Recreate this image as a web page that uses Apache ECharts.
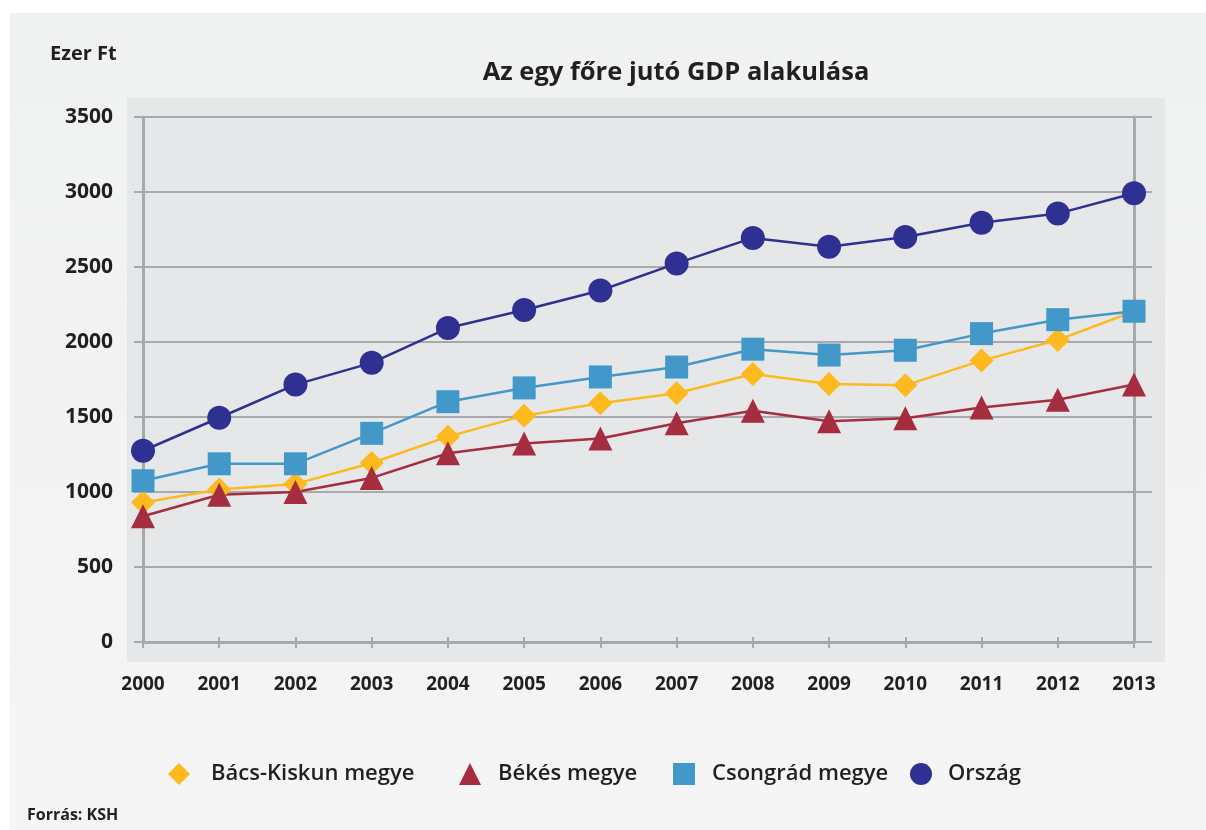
<!DOCTYPE html>
<html>
<head>
<meta charset="utf-8">
<script src="https://cdn.jsdelivr.net/npm/echarts@6/dist/echarts.min.js"></script>
<style>
html,body{margin:0;padding:0;background:#ffffff;}
#chart{width:1206px;height:830px;}
</style>
</head>
<body>
<div id="chart"></div>
<script>
const years = ['2000','2001','2002','2003','2004','2005','2006','2007','2008','2009','2010','2011','2012','2013'];
const bacsKiskun = [930, 1017, 1054, 1193, 1369, 1509, 1592, 1658, 1787, 1720, 1711, 1876, 2013, 2205];
const bekes = [838, 982, 1000, 1094, 1258, 1324, 1357, 1458, 1542, 1471, 1491, 1564, 1615, 1716];
const csongrad = [1075, 1188, 1188, 1391, 1602, 1694, 1767, 1833, 1952, 1913, 1945, 2056, 2149, 2205];
const orszag = [1275, 1495, 1716, 1861, 2093, 2213, 2343, 2524, 2694, 2635, 2700, 2795, 2856, 2992];
const seriesNames = ['Bács-Kiskun megye', 'Békés megye', 'Csongrád megye', 'Ország'];
const yTicks = [0, 500, 1000, 1500, 2000, 2500, 3000, 3500];

const FONT = '"Open Sans", "Noto Sans", sans-serif';
const GRIDC = '#a7a9ac';
const TXT = '#231f20';
const icons = ['diamond', 'triangle', 'rect', 'circle'];
const legendLeft = [163, 454, 668, 905];
const legendPad = [16, 12, 12, 11];

const chart = echarts.init(document.getElementById('chart'), null, {renderer: 'canvas'});

function mk(name, data, color, symbol, size) {
  return {
    name: name, type: 'line', data: data, xAxisIndex: 0, yAxisIndex: 0,
    symbol: symbol, symbolSize: size,
    lineStyle: {color: color, width: 2.5},
    itemStyle: {color: color},
    emphasis: {disabled: true},
    animation: false
  };
}

chart.setOption({
  animation: false,
  backgroundColor: '#ffffff',
  graphic: [
    {type: 'rect', z: -10, shape: {x: 10, y: 13, width: 1196, height: 817},
     style: {fill: new echarts.graphic.LinearGradient(0, 0, 0, 1, [{offset: 0, color: '#f0f1f1'}, {offset: 1, color: '#f5f5f5'}])}},
    {type: 'rect', z: -9, shape: {x: 127, y: 98, width: 1038, height: 564}, style: {fill: '#e6e7e8'}},
    {type: 'text', left: 50, top: 44, style: {text: 'Ezer Ft', font: 'bold 20px ' + FONT, fill: TXT}},
    {type: 'text', left: 27, top: 807, style: {text: 'Forrás: KSH', font: 'bold 16px ' + FONT, fill: TXT}}
  ],
  title: {
    text: 'Az egy főre jutó GDP alakulása',
    left: 671, top: 55, textAlign: 'center',
    textStyle: {fontFamily: FONT, fontWeight: 'bold', fontSize: 25.5, color: TXT}
  },
  legend: seriesNames.map((n, i) => ({
    data: [{name: n, icon: icons[i]}],
    left: legendLeft[i], top: 758,
    itemWidth: 22, itemHeight: 22,
    textStyle: {fontFamily: FONT, fontWeight: 600, fontSize: 22, color: TXT, padding: [0, 0, 0, legendPad[i]]},
    selectedMode: false
  })),
  grid: {left: 143, right: 72, top: 117, bottom: 188, containLabel: false},
  xAxis: [{
    type: 'category', data: years, boundaryGap: false, position: 'bottom',
    axisLine: {lineStyle: {color: GRIDC, width: 3}},
    axisTick: {show: true, length: 6, lineStyle: {color: GRIDC, width: 2}},
    axisLabel: {margin: 33, fontFamily: FONT, fontWeight: 'bold', fontSize: 19, color: TXT},
    splitLine: {show: false}
  }, {
    type: 'category', data: years, boundaryGap: false, position: 'bottom',
    axisLine: {show: false},
    axisTick: {show: true, inside: true, length: 5, lineStyle: {color: GRIDC, width: 2}},
    axisLabel: {show: false}, splitLine: {show: false}
  }],
  yAxis: [{
    type: 'value', min: yTicks[0], max: yTicks[yTicks.length - 1], interval: 500,
    axisLine: {show: true, lineStyle: {color: GRIDC, width: 3}},
    axisTick: {show: true, length: 9, lineStyle: {color: GRIDC, width: 2}},
    axisLabel: {margin: 30, fontFamily: FONT, fontWeight: 'bold', fontSize: 21, color: TXT, formatter: v => String(v)},
    splitLine: {show: true, lineStyle: {color: GRIDC, width: 2}}
  }, {
    type: 'value', min: yTicks[0], max: yTicks[yTicks.length - 1], interval: 500, position: 'right',
    axisLine: {show: true, lineStyle: {color: GRIDC, width: 3}},
    axisTick: {show: true, length: 18, lineStyle: {color: GRIDC, width: 2}},
    axisLabel: {show: false}, splitLine: {show: false}
  }],
  series: [
    mk(seriesNames[0], bacsKiskun, '#fdb91d', 'diamond', 24),
    mk(seriesNames[1], bekes, '#a62d40', 'triangle', 24),
    mk(seriesNames[2], csongrad, '#4299c9', 'rect', 23),
    mk(seriesNames[3], orszag, '#2e3192', 'circle', 24)
  ]
});
</script>
</body>
</html>
